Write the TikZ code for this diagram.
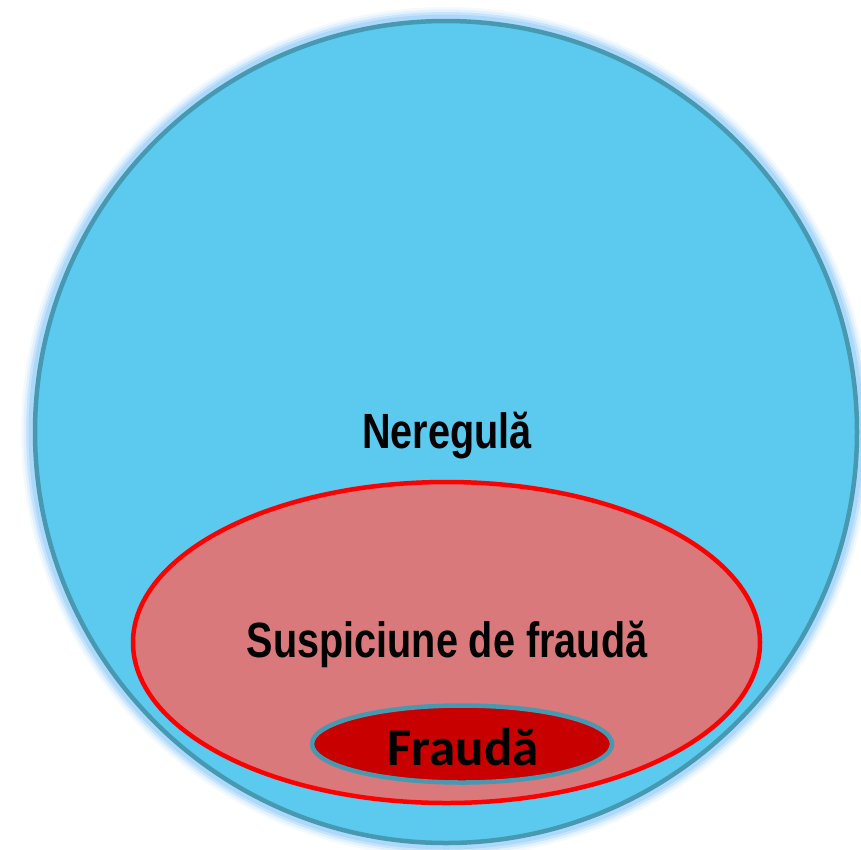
\documentclass[tikz,border=0pt]{standalone}
\usepackage{fontspec}
\usetikzlibrary{shapes.geometric}
\newfontfamily\narrowsans[FakeStretch=0.8]{Liberation Sans}
\newfontfamily\calibfont{Carlito}
\definecolor{skyfill}{HTML}{5CC9EE}
\definecolor{tealline}{HTML}{4799B1}
\definecolor{glowblue}{HTML}{8CC8F8}
\definecolor{pinkfill}{HTML}{D9797B}
\definecolor{redline}{HTML}{FF0000}
\definecolor{darkred}{HTML}{C80000}
\tikzset{
  bigset/.style={circle, inner sep=0pt, minimum size=822pt, fill=skyfill, draw=tealline, line width=4.5pt},
  glowring/.style={circle, inner sep=0pt, minimum size=822pt, draw=glowblue},
  midset/.style={ellipse, inner sep=0pt, minimum width=627pt, minimum height=321pt, fill=pinkfill, draw=redline, line width=4.5pt},
  smallset/.style={ellipse, inner sep=0pt, minimum width=300pt, minimum height=77pt, fill=darkred, draw=tealline, line width=4.5pt},
  lbl/.style={inner sep=0pt, text=black, font=\narrowsans\bfseries\fontsize{49.5}{52}\selectfont},
  flbl/.style={inner sep=0pt, text=black, font=\calibfont\bfseries\fontsize{53}{56}\selectfont}
}
\begin{document}
\begin{tikzpicture}[x=1pt,y=-1pt]
\useasboundingbox (0,0) rectangle (861,849);
% glow
\node[glowring, line width=28pt, draw opacity=0.10] (g1) at (446,432) {};
\node[glowring, line width=23pt, draw opacity=0.18] (g2) at (446,432) {};
\node[glowring, line width=18pt, draw opacity=0.3] (g3) at (446,432) {};
\node[glowring, line width=13pt, draw opacity=0.45] (g4) at (446,432) {};
% sets
\node[bigset] (neregula) at (446,432) {};
\node[midset] (suspiciune) at (446.5,642.5) {};
\node[smallset] (frauda) at (462,744) {};
% labels
\node[lbl] (t1) at (447,436) {Neregulă};
\node[lbl] (t2) at (447,644) {Suspiciune de fraudă};
\node[flbl] (t3) at (463,747) {Fraudă};
\end{tikzpicture}
\end{document}
